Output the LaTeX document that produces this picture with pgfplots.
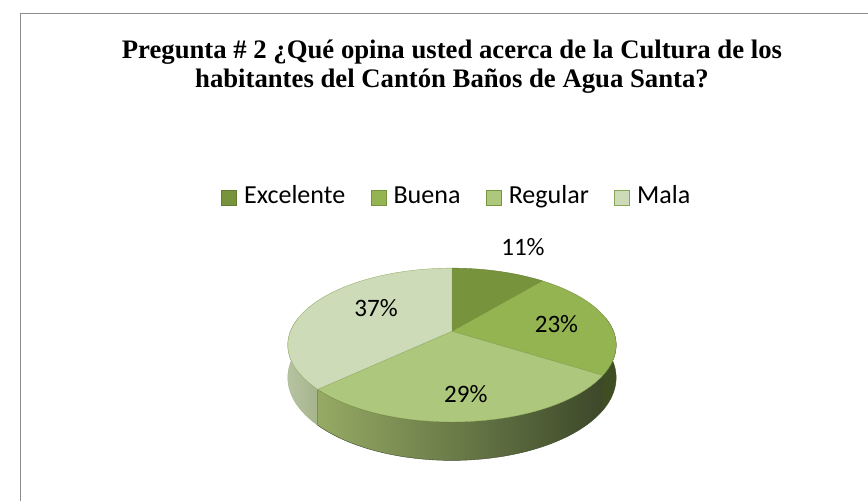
\documentclass[border=0pt]{standalone}
\usepackage{pgfplots}
\pgfplotsset{compat=1.18}
\usepackage{pgfplotstable}
\usepackage{fontspec}
\setmainfont{Liberation Serif}
\newfontfamily\calibri{Carlito}

\definecolor{cExc}{RGB}{119,147,60}
\definecolor{cBue}{RGB}{148,180,82}
\definecolor{cReg}{RGB}{173,199,124}
\definecolor{cMal}{RGB}{206,219,184}
\definecolor{cExcL}{RGB}{100,125,48}
\definecolor{cBueL}{RGB}{120,150,62}
\definecolor{cRegL}{RGB}{135,165,85}
\definecolor{cMalL}{RGB}{150,175,105}
\definecolor{sRegL}{RGB}{150,170,100}
\definecolor{sRegR}{RGB}{60,72,42}
\definecolor{sBue}{RGB}{62,78,34}
\definecolor{sMalL}{RGB}{182,195,162}
\definecolor{sMalR}{RGB}{165,180,140}
\definecolor{frame}{RGB}{140,140,140}

\pgfplotstableread{
label pct
Excelente 11
Buena 23
Regular 29
Mala 37
}\piedata

\newcommand\sideface[3]{%
 \addplot[forget plot, #1, domain=0:2.1, samples=211, variable=\t]
  ({px(ifthenelse(\t<1, (#2)+((#3)-(#2))*\t, ifthenelse(\t<1.1, (#3), (#3)+((#2)-(#3))*(\t-1.1))))},
   {ifthenelse(\t<1, py((#2)+((#3)-(#2))*\t), ifthenelse(\t<1.1, py(#3)+(pyb(#3)-py(#3))*(\t-1)*10, pyb((#3)+((#2)-(#3))*(\t-1.1))))}) -- cycle;
}
\newcommand\topface[3]{%
 \addplot[forget plot, #1, domain=#2:#3, samples=60, variable=\t] ({px(\t)},{py(\t)}) -- (axis cs:446,336) -- cycle;
}

\begin{document}
\pgfplotstablegetelem{0}{pct}\of\piedata \let\pA\pgfplotsretval
\pgfplotstablegetelem{1}{pct}\of\piedata \let\pB\pgfplotsretval
\pgfplotstablegetelem{2}{pct}\of\piedata \let\pC\pgfplotsretval
\pgfplotstablegetelem{3}{pct}\of\piedata \let\pD\pgfplotsretval
\pgfmathsetmacro\aA{90}
\pgfmathsetmacro\aB{\aA-3.6*\pA}
\pgfmathsetmacro\aC{\aB-3.6*\pB}
\pgfmathsetmacro\aD{\aC-3.6*\pC}
\pgfmathsetmacro\aE{\aD-3.6*\pD}
\begin{tikzpicture}
\begin{axis}[
  name=ax,
  width=868bp, height=508bp, scale only axis,
  xmin=0, xmax=868, ymin=0, ymax=508, y dir=reverse,
  hide axis, clip=false,
  declare function={
    W(\u)=1+0.1795*sin(\u);
    px(\u)=446+163.8*cos(\u)/W(\u);
    py(\u)=336-75.5*sin(\u)/W(\u);
    pyb(\u)=py(\u)+32/W(\u);
  },
  legend columns=4,
  legend image code/.code={\draw[#1] (0bp,-8bp) rectangle (15bp,7bp);},
  legend style={draw=none, fill=none, font=\calibri\fontsize{26.5}{30}\selectfont,
    nodes={inner sep=0pt, text height=17bp, text depth=6bp},
    /tikz/every odd column/.append style={column sep=7bp},
    /tikz/every even column/.append style={column sep=26bp},
    at={(axis cs:450,200.5)}, anchor=center},
]
% frame
\draw[frame, line width=1.6bp] (axis cs:8.5,520) -- (axis cs:8.5,13.5) -- (axis cs:880,13.5);

% side faces
\sideface{draw=sMalR, line width=0.4bp, left color=sMalL, right color=sMalR}{-190}{\aD}
\sideface{draw=sRegR, line width=0.4bp, left color=sRegL, right color=sRegR}{\aD}{\aC}
\sideface{draw=sBue, line width=0.4bp, fill=sBue}{\aC}{10}

% top faces
\topface{fill=cExc, draw=cExcL, line width=0.4bp}{\aB}{\aA}
\topface{fill=cBue, draw=cBueL, line width=0.4bp}{\aC}{\aB}
\topface{fill=cReg, draw=cRegL, line width=0.4bp}{\aD}{\aC}
\topface{fill=cMal, draw=cMalL, line width=0.4bp}{\aE}{\aD}

\addlegendimage{fill=cExc, draw=cExcL, line width=1bp}
\addlegendentry{Excelente}
\addlegendimage{fill=cBue, draw=cExc, line width=1bp}
\addlegendentry{Buena}
\addlegendimage{fill=cReg, draw=cBueL, line width=1bp}
\addlegendentry{Regular}
\addlegendimage{fill=cMal, draw=cRegL, line width=1bp}
\addlegendentry{Mala}

% labels
\begin{scope}[every node/.style={font=\calibri\fontsize{25.5}{30}\selectfont, anchor=center, inner sep=0pt}]
\node at (axis cs:518,251) {11\%};
\node at (axis cs:552,329) {23\%};
\node at (axis cs:460,400) {29\%};
\node at (axis cs:369,312) {37\%};
\end{scope}

% title
\node[anchor=base, align=center, font=\bfseries\fontsize{27.2}{30}\selectfont] at (axis cs:446,89)
  {Pregunta \# 2 ¿Qué opina usted acerca de la Cultura de los\\habitantes del Cantón Baños de Agua Santa?};
\end{axis}
\pgfresetboundingbox
\useasboundingbox (ax.south west) rectangle (ax.north east);
\end{tikzpicture}
\end{document}
